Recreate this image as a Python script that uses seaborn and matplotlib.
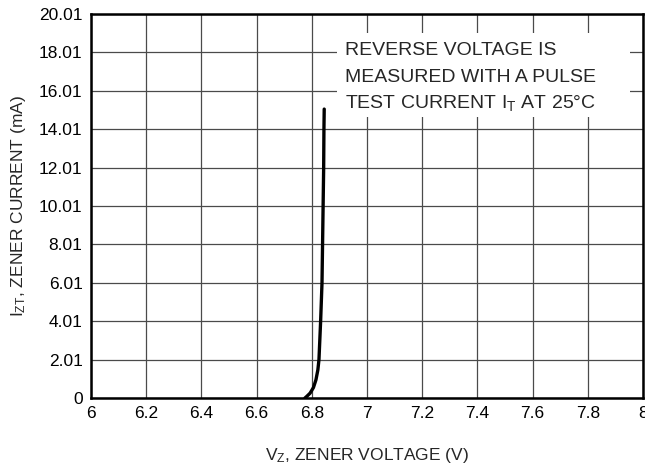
import matplotlib
matplotlib.use("Agg")
import matplotlib.pyplot as plt
from matplotlib.patches import Rectangle
import seaborn as sns
import pandas as pd

# curve
vz = [6.775, 6.782, 6.794, 6.806, 6.815, 6.822, 6.826, 6.832, 6.837, 6.839, 6.841, 6.843, 6.844, 6.845]
izt = [0.0, 0.09, 0.26, 0.55, 0.95, 1.47, 2.01, 4.01, 6.01, 8.01, 10.01, 12.01, 14.01, 15.06]

x_ticks = [6, 6.2, 6.4, 6.6, 6.8, 7, 7.2, 7.4, 7.6, 7.8, 8]
x_labels = ["6", "6.2", "6.4", "6.6", "6.8", "7", "7.2", "7.4", "7.6", "7.8", "8"]
y_ticks = [0, 2.01, 4.01, 6.01, 8.01, 10.01, 12.01, 14.01, 16.01, 18.01, 20.01]
y_labels = ["0", "2.01", "4.01", "6.01", "8.01", "10.01", "12.01", "14.01", "16.01", "18.01", "20.01"]

note_lines = ["REVERSE VOLTAGE IS",
              "MEASURED WITH A PULSE",
              "TEST CURRENT I$_{\\mathregular{T}}$ AT 25°C"]

sns.set_style("white")
plt.rcParams["font.family"] = ["Liberation Sans", "DejaVu Sans"]
plt.rcParams["mathtext.default"] = "regular"

df = pd.DataFrame({"vz": vz, "izt": izt})

fig = plt.figure(figsize=(6.45, 4.70), dpi=100)
ax = fig.add_axes([0.141, 0.153, 0.856, 0.817])

sns.lineplot(data=df, x="vz", y="izt", sort=False, color="black", linewidth=2.4, ax=ax, zorder=3)

ax.set_xlim(6, 8)
ax.set_ylim(0, 20.01)
ax.set_xticks(x_ticks)
ax.set_xticklabels(x_labels)
ax.set_yticks(y_ticks)
ax.set_yticklabels(y_labels)
ax.tick_params(length=0, labelsize=12.5, pad=6, colors="black")
ax.grid(True, color="#4a4a4a", linewidth=0.9)
for s in ax.spines.values():
    s.set_color("black")
    s.set_linewidth(1.8)

ax.set_xlabel("V$_{\\mathregular{Z}}$, ZENER VOLTAGE (V)", fontsize=12.5, labelpad=18)
ax.set_ylabel("I$_{\\mathregular{ZT}}$, ZENER CURRENT (mA)", fontsize=12.5, labelpad=8)

# white note box over the grid
ax.add_patch(Rectangle((6.891, 14.64), 1.062, 4.38, facecolor="white", edgecolor="none", zorder=4))
for line, yb in zip(note_lines, [17.87, 16.49, 15.11]):
    ax.text(6.92, yb, line, fontsize=14, va="baseline", ha="left", zorder=5)

fig.savefig("out.png", dpi=100)
